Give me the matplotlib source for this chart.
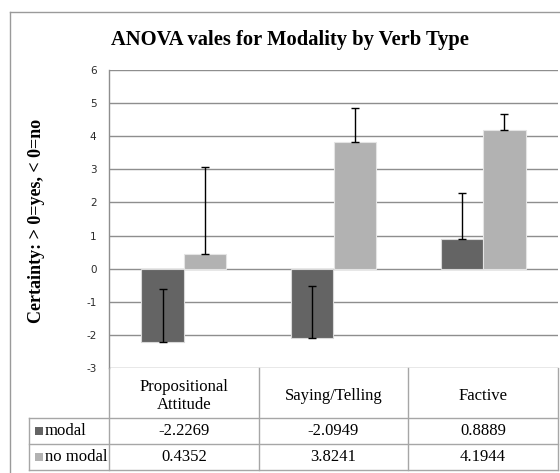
import matplotlib
matplotlib.use("Agg")
import matplotlib.pyplot as plt
from matplotlib.lines import Line2D
from matplotlib.patches import Rectangle
import numpy as np

categories = ["Propositional\nAttitude", "Saying/Telling", "Factive"]
series_names = ["modal", "no modal"]
modal = [-2.2269, -2.0949, 0.8889]
no_modal = [0.4352, 3.8241, 4.1944]
modal_err = [1.60, 1.57, 1.40]
no_modal_err = [2.63, 1.03, 0.47]
modal_labels = ["-2.2269", "-2.0949", "0.8889"]
no_modal_labels = ["0.4352", "3.8241", "4.1944"]
yticks = [-3, -2, -1, 0, 1, 2, 3, 4, 5, 6]

W, H = 560, 473
fig = plt.figure(figsize=(W / 100, H / 100), dpi=100)

def fx(px):
    return px / W

def fy(py):
    return 1 - py / H

serif = "Liberation Serif"
c_modal = "#646464"
c_nomodal = "#b2b2b2"
grid_c = "#8e8e8e"
tbl_c = "#a6a6a6"

# outer frame
fig.add_artist(Line2D([fx(10), fx(10)], [fy(12), fy(473)], color="#9a9a9a", lw=1.0))
fig.add_artist(Line2D([fx(10), fx(560)], [fy(12), fy(12)], color="#9a9a9a", lw=1.0))

L, R, T, B = 109, 558, 70, 368
ax = fig.add_axes([fx(L), fy(B), fx(R) - fx(L), fy(T) - fy(B)])
x = np.arange(len(categories))
w = 0.285
ax.bar(x - w / 2, modal, w, color=c_modal, edgecolor="#d8d8d8", lw=0.8, zorder=3)
ax.bar(x + w / 2, no_modal, w, color=c_nomodal, edgecolor="#e4e4e4", lw=0.8, zorder=3)
ax.errorbar(x - w / 2, modal, yerr=[np.zeros(3), modal_err], fmt="none",
            ecolor="black", elinewidth=1.0, capsize=3, capthick=1.0, zorder=4)
ax.errorbar(x + w / 2, no_modal, yerr=[np.zeros(3), no_modal_err], fmt="none",
            ecolor="black", elinewidth=1.0, capsize=3, capthick=1.0, zorder=4)
ax.set_xlim(-0.5, 2.5)
ax.set_ylim(-3, 6)
ax.set_yticks(yticks)
ax.set_yticklabels([str(t) for t in yticks], fontsize=7.5, color="#2a2a2a", family="DejaVu Sans")
ax.tick_params(axis="y", length=0, pad=9)
ax.set_xticks([])
for t in yticks:
    ax.axhline(t, color=grid_c, lw=1.0, zorder=1)
for s in ["top", "right", "bottom"]:
    ax.spines[s].set_visible(False)
ax.spines["left"].set_color(grid_c)
ax.spines["left"].set_linewidth(1.0)

# title and y label
fig.text(fx(290), fy(40), "ANOVA vales for Modality by Verb Type", family=serif,
         fontweight="bold", fontsize=14.8, ha="center", va="center")
fig.text(fx(37), fy(221), "Certainty: > 0=yes, < 0=no", family=serif,
         fontweight="bold", fontsize=13, rotation=90, ha="center", va="center")

# data table
col_x = [109, 258.5, 408, 558]
row_y = [368, 418, 444, 470]
lab_x0 = 29

for cx in col_x:
    fig.add_artist(Line2D([fx(cx), fx(cx)], [fy(row_y[0]), fy(row_y[-1])], color=tbl_c, lw=1.0))
for ry in row_y[1:]:
    fig.add_artist(Line2D([fx(lab_x0), fx(col_x[-1])], [fy(ry), fy(ry)], color=tbl_c, lw=1.0))
fig.add_artist(Line2D([fx(lab_x0), fx(lab_x0)], [fy(row_y[1]), fy(row_y[-1])], color=tbl_c, lw=1.0))

fs = 12
for i, cat in enumerate(categories):
    cx = (col_x[i] + col_x[i + 1]) / 2
    fig.text(fx(cx), fy((row_y[0] + row_y[1]) / 2 + 3), cat, family=serif, fontsize=fs,
             ha="center", va="center", linespacing=1.15)
    fig.text(fx(cx), fy((row_y[1] + row_y[2]) / 2), modal_labels[i], family=serif,
             fontsize=fs, ha="center", va="center")
    fig.text(fx(cx), fy((row_y[2] + row_y[3]) / 2), no_modal_labels[i], family=serif,
             fontsize=fs, ha="center", va="center")

for j, (name, col) in enumerate(zip(series_names, [c_modal, c_nomodal])):
    yc = (row_y[j + 1] + row_y[j + 2]) / 2
    fig.add_artist(Rectangle((fx(35), fy(yc + 4)), fx(8), fx(8) * W / H,
                             facecolor=col, edgecolor="none"))
    fig.text(fx(45), fy(yc), name, family=serif, fontsize=fs, ha="left", va="center")

fig.savefig("out.png", dpi=100)
